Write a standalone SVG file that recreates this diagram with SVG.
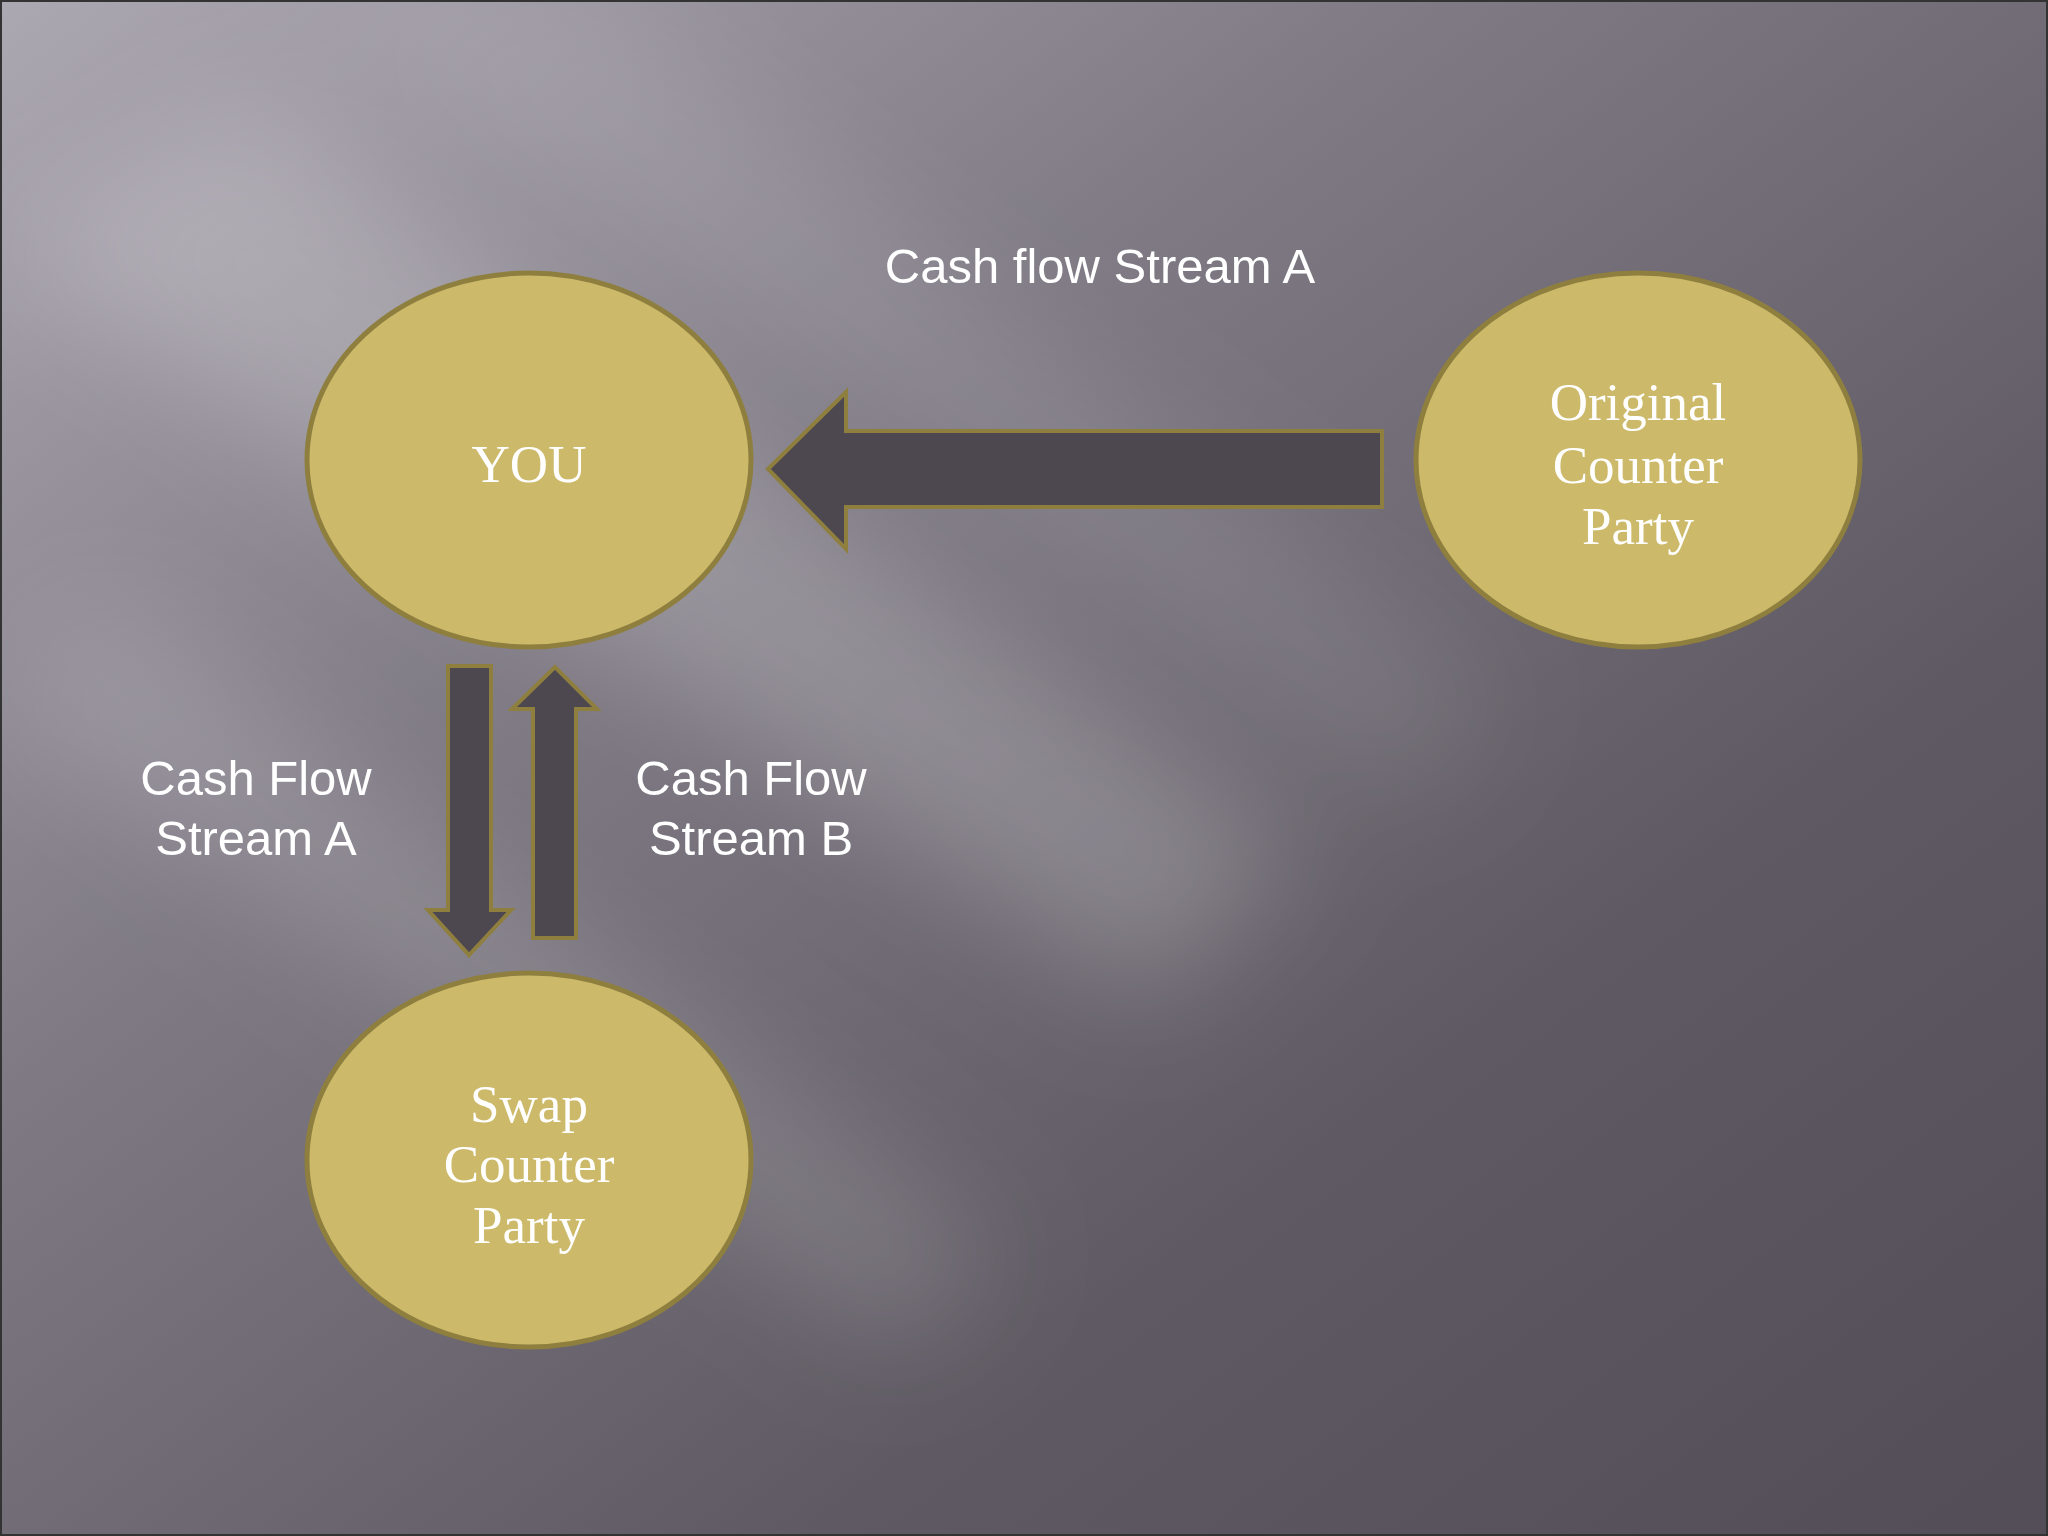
<svg xmlns="http://www.w3.org/2000/svg" width="2048" height="1536" viewBox="0 0 2048 1536">
<defs>
<linearGradient id="bg" x1="0" y1="0" x2="1" y2="1">
<stop offset="0" stop-color="#aca8b2"/>
<stop offset="0.35" stop-color="#7f7a84"/>
<stop offset="0.7" stop-color="#5e5962"/>
<stop offset="1" stop-color="#524d56"/>
</linearGradient>
<filter id="blur" x="-30%" y="-30%" width="160%" height="160%"><feGaussianBlur stdDeviation="60"/></filter>
<style>
.node{fill:#ccb96a;stroke:#8f7f3f;stroke-width:5}
.arr{fill:#4d4750;stroke:#8f7f3f;stroke-width:4}
.nt{font-family:"Liberation Serif",serif;font-size:53px;fill:#ffffff;text-anchor:middle}
.lt{font-family:"Liberation Sans",sans-serif;font-size:49px;fill:#ffffff;text-anchor:middle}
</style>
</defs>
<rect width="2048" height="1536" fill="url(#bg)"/>
<g filter="url(#blur)" fill="#ffffff">
<polygon points="0,250 250,100 1300,850 1150,1000" opacity="0.2"/>
<polygon points="0,700 100,600 1000,1250 900,1350" opacity="0.15"/>
<polygon points="300,0 600,0 1500,700 1400,800" opacity="0.1"/>
</g>
<rect x="1" y="1" width="2046" height="1534" fill="none" stroke="#333" stroke-width="2"/>
<g id="connectors">
<polygon class="arr" points="768,469 846,392 846,431 1382,431 1382,507 846,507 846,549"/>
<polygon class="arr" points="448,666 491,666 491,910 511,910 469,955 428,910 448,910"/>
<polygon class="arr" points="533,938 576,938 576,709 597,709 555,667 512,709 533,709"/>
</g>
<g id="you"><ellipse class="node" cx="529" cy="460" rx="222" ry="187"/><text class="nt" x="529" y="482">YOU</text></g>
<g id="original"><ellipse class="node" cx="1638" cy="460" rx="222" ry="187"/>
<text class="nt" x="1638" y="420">Original</text><text class="nt" x="1638" y="483">Counter</text><text class="nt" x="1638" y="544">Party</text></g>
<g id="swap"><ellipse class="node" cx="529" cy="1160" rx="222" ry="187"/>
<text class="nt" x="529" y="1122">Swap</text><text class="nt" x="529" y="1182">Counter</text><text class="nt" x="529" y="1243">Party</text></g>
<g id="labels">
<text class="lt" x="1100" y="283">Cash flow Stream A</text>
<text class="lt" x="256" y="795">Cash Flow</text><text class="lt" x="256" y="855">Stream A</text>
<text class="lt" x="751" y="795">Cash Flow</text><text class="lt" x="751" y="855">Stream B</text>
</g>
</svg>
